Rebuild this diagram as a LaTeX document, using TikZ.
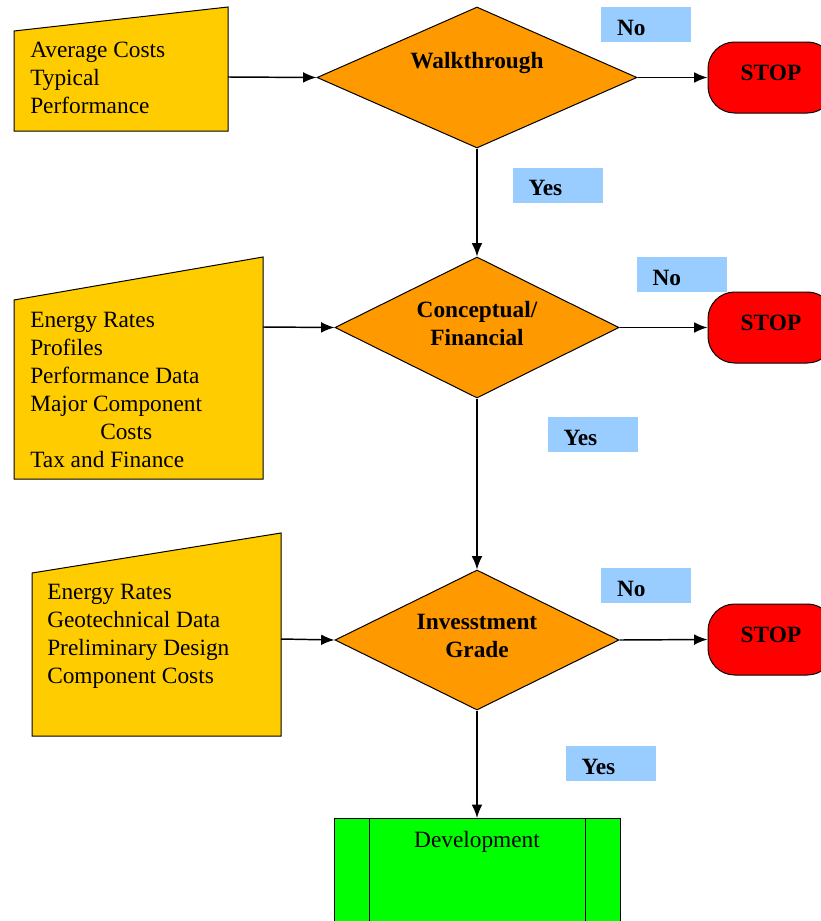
\documentclass[tikz,border=0pt]{standalone}
\usepackage{fontspec}
\setmainfont{Liberation Serif}
\usetikzlibrary{positioning, arrows.meta, shapes.geometric}
\usepackage{xcolor}
\definecolor{inputgold}{HTML}{FFCC00}
\definecolor{decisionorange}{HTML}{FF9900}
\definecolor{stopred}{HTML}{FF0000}
\definecolor{labelblue}{HTML}{99CCFF}
\definecolor{devgreen}{HTML}{00FF00}
\newcommand{\flowfont}{\fontsize{17.5pt}{21pt}\selectfont}
\tikzset{
  inputshape/.style={draw, fill=inputgold, line width=0.75pt},
  inputtext/.style={anchor=north west, align=left, inner sep=0pt, font=\flowfont},
  decision/.style={diamond, draw, fill=decisionorange, line width=0.75pt, inner sep=0pt},
  decisiontext/.style={align=center, inner sep=0pt, font=\flowfont\bfseries},
  stopbox/.style={rectangle, draw, fill=stopred, line width=0.75pt, rounded corners=20pt,
    minimum width=94.5pt, minimum height=53.25pt, text depth=7.5pt, font=\flowfont\bfseries},
  answer/.style={rectangle, fill=labelblue, minimum height=26.25pt, text width=43.5pt,
    text height=16pt, text depth=0pt, inner xsep=12pt, align=left, font=\flowfont\bfseries},
  devbox/.style={rectangle, draw, fill=devgreen, line width=0.75pt, anchor=north,
    minimum width=214.5pt, minimum height=100pt},
  flowarrow/.style={-{Latex[length=10pt,width=8pt]}, line width=1.1pt}
}
\begin{document}
\begin{tikzpicture}[x=0.75pt, y=-0.75pt]
        \clip (0,0) rectangle (821,921);
        \fill[white] (0,0) rectangle (821,921);

        % Inputs
        \draw[inputshape] (14,31) -- (228,7) -- (228,131) -- (14,131) -- cycle;
        \coordinate (in1) at (228,77);
        \node[inputtext] (in1t) at (30,42) {Average Costs\\Typical\\Performance};

        \draw[inputshape] (14,300) -- (263,257) -- (263,479) -- (14,479) -- cycle;
        \coordinate (in2) at (263,327);
        \node[inputtext] (in2t) at (30,312) {Energy Rates\\Profiles\\Performance Data\\Major Component\\\hspace*{52.5pt}Costs\\Tax and Finance};

        \draw[inputshape] (32,573) -- (281,533) -- (281,736) -- (32,736) -- cycle;
        \coordinate (in3) at (281,639);
        \node[inputtext] (in3t) at (47,584) {Energy Rates\\Geotechnical Data\\Preliminary Design\\Component Costs};

        % Decisions
        \node[decision, minimum width=240pt, minimum height=105.75pt] (d1) at (477,77.5) {};
        \node[decisiontext] (d1t) at (477,63) {Walkthrough};
        \node[decision, minimum width=213pt, minimum height=105.75pt] (d2) at (477,327.5) {};
        \node[decisiontext] (d2t) at (477,324) {Conceptual/\\Financial};
        \node[decision, minimum width=213pt, minimum height=105pt] (d3) at (477,640) {};
        \node[decisiontext] (d3t) at (477,636) {Invesstment\\Grade};

        % Stops
        \node[stopbox] (stop1) at (771,77.5) {STOP};
        \node[stopbox] (stop2) at (771,327.5) {STOP};
        \node[stopbox] (stop3) at (771,639.5) {STOP};

        % Development
        \node[devbox] (dev) at (477,818) {};
        \draw[line width=0.75pt] (369,818) -- (369,921) (585,818) -- (585,921);
        \node[inner sep=0pt, font=\flowfont] (devt) at (477,842) {Development};

        % Answers
        \node[answer] (no1) at (646,24.5) {No};
        \node[answer] (yes1) at (557.5,185) {Yes};
        \node[answer] (no2) at (681.5,274.5) {No};
        \node[answer] (yes2) at (592.5,434.5) {Yes};
        \node[answer] (no3) at (646,585.5) {No};
        \node[answer] (yes3) at (610.5,763.5) {Yes};

        % Edges
        \draw[flowarrow] (in1) -- (d1.west);
        \draw[flowarrow] (in2) -- (d2.west);
        \draw[flowarrow] (in3) -- (d3.west);
        \draw[flowarrow] (d1.east) -- (stop1.west);
        \draw[flowarrow] (d2.east) -- (stop2.west);
        \draw[flowarrow] (d3.east) -- (stop3.west);
        \draw[flowarrow] (d1.south) -- (d2.north);
        \draw[flowarrow] (d2.south) -- (d3.north);
        \draw[flowarrow] (d3.south) -- (dev.north);
    \end{tikzpicture}
\end{document}
